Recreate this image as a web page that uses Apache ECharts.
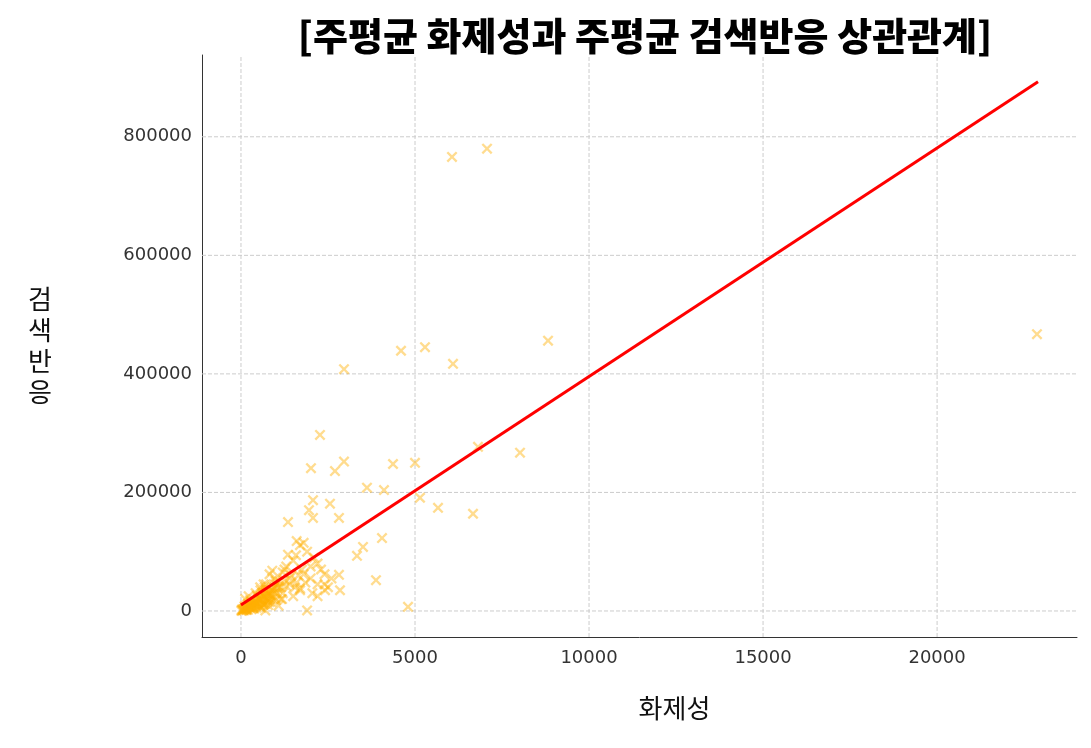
<!DOCTYPE html>
<html><head><meta charset="utf-8">
<script src="https://cdn.jsdelivr.net/npm/echarts@6/dist/echarts.min.js"></script>
<style>html,body{margin:0;padding:0;background:#fff}#c{width:1091px;height:748px}</style>
</head><body><div id="c"></div>
<script>
const titleText = '[주평균 화제성과 주평균 검색반응 상관관계]';
const xName = '화제성';
const yName = '검색반응';
const buzz = [6063,7069,22870,8822,4598,5287,6092,2960,2270,2011,2960,2700,4368,5000,3620,4109,5144,5661,6667,6810,8017,2069,1954,2557,2816,1351,2069,4052,3506,3333,1695,1580,2816,3879,4799,2845,2414,
 1800,1900,2100,2200,1750,1600,1450,1300,1200,1100,2400,2300,2000,1850,1700,1550,1400,1250,1150,1050,950,900,850,800,750,700,650,600,550,500,450,400,350,300,250,200,150,100,50,20,700,820,900,1000,1100,600,500,400,300,250,180,120,80,1900,2050,2200,1650,1500,1350,1250,980,870,760,640,560,450,380,300,200,150,90,40,10,550,650,720,830,1000,1150,700,450,350,2500,2600,
 100,200,300,400,500,600,700,800,900,1000,150,250,350,450,550,650,750,850,950,1050,120,220,320,420,520,620,720,820,60,160,260,360,460,560,660,760,1200,1300,1400,1500,1600,1700,1800,2000,2200,2400,680,780,880,980,1080,1180,480,580,380,280];
const search = [766000,780000,467000,456000,439000,445000,417000,408000,297000,241000,252000,236000,248000,250000,208000,204000,191000,174000,164000,277000,267000,187000,170000,181000,157000,150000,157000,123000,108000,93000,111000,94000,61000,52000,7000,35000,35000,
 115000,100000,90000,80000,70000,118000,60000,75000,65000,50000,45000,70000,55000,48000,38000,40000,45000,52000,40000,30000,38000,35000,28000,25000,30000,22000,26000,20000,24000,18000,16000,14000,12000,10000,9000,7000,5000,4000,3000,2000,1000,62000,68000,50000,40000,30000,20000,16000,12000,8000,6000,4000,2000,1000,30000,25000,60000,85000,95000,70000,55000,25000,15000,10000,8000,6000,4000,3000,2000,1500,1000,500,300,40000,45000,35000,20000,18000,20000,12000,9000,5000,40000,55000,
 8000,12000,15000,10000,22000,18000,30000,28000,35000,45000,3000,6000,9000,14000,19000,24000,20000,33000,40000,38000,20000,25000,4000,30000,8000,12000,45000,15000,2000,2500,18000,7000,26000,35000,11000,16000,30000,42000,55000,25000,48000,35000,62000,75000,45000,62000,40000,10000,15000,22000,9000,20000,14000,5000,12000,6000];
const regX = [0, 22900];
const regY = [10000, 893000];
const xTicks = [0,5000,10000,15000,20000];
const yTicks = [0,200000,400000,600000,800000];

const chart = echarts.init(document.getElementById('c'));
const xSym = 'path://M0,1.5L1.5,0L5,3.5L8.5,0L10,1.5L6.5,5L10,8.5L8.5,10L5,6.5L1.5,10L0,8.5L3.5,5Z';
chart.setOption({
  animation:false,
  title:{text:titleText,left:640,top:12,textAlign:'center',textStyle:{fontSize:38,fontWeight:900,color:'#000',fontFamily:'Noto Sans CJK KR'}},
  grid:{left:202,right:14,top:55,bottom:111},
  xAxis:{type:'value',min:-1120,max:24020,interval:5000,
    name:xName,nameLocation:'middle',nameGap:58,nameTextStyle:{fontSize:26,color:'#111',fontFamily:'Noto Sans CJK KR',padding:[0,0,0,70]},
    axisLine:{show:true,onZero:false,lineStyle:{color:'#333'}},axisTick:{show:false},
    axisLabel:{fontSize:18,color:'#333',fontFamily:'DejaVu Sans',margin:12,customValues:xTicks,formatter:v=>String(v)},
    splitLine:{show:false},
  },
  yAxis:{type:'value',min:-43900,max:938000,
    name:yName.split('').join('\n'),nameLocation:'middle',nameGap:150,nameRotate:0,nameTextStyle:{fontSize:26,color:'#111',lineHeight:31,fontFamily:'Noto Sans CJK KR'},
    axisLine:{show:true,onZero:false,lineStyle:{color:'#333'}},axisTick:{show:false},
    axisLabel:{fontSize:18,color:'#333',fontFamily:'DejaVu Sans',margin:10,customValues:yTicks,formatter:v=>String(v)},
    splitLine:{show:false}
  },
  series:[
    {type:'line',data:xTicks.map(v=>[v,-43900]).flatMap(p=>[p,[p[0],938000],null]),symbol:'none',silent:true,connectNulls:false,
     lineStyle:{color:'#ccc',width:1,type:'dashed'},z:0},
    {type:'line',data:yTicks.map(v=>[-1120,v]).flatMap(p=>[p,[24020,p[1]],null]),symbol:'none',silent:true,connectNulls:false,
     lineStyle:{color:'#ccc',width:1,type:'dashed'},z:0},
    {type:'scatter',data:buzz.map((b,i)=>[b,search[i]]),symbol:xSym,symbolSize:11,
     itemStyle:{color:'rgba(255,176,0,0.55)'}},
    {type:'line',data:regX.map((x,i)=>[x,regY[i]]),symbol:'none',lineStyle:{color:'#f00',width:3},z:5}
  ]
});
</script></body></html>
